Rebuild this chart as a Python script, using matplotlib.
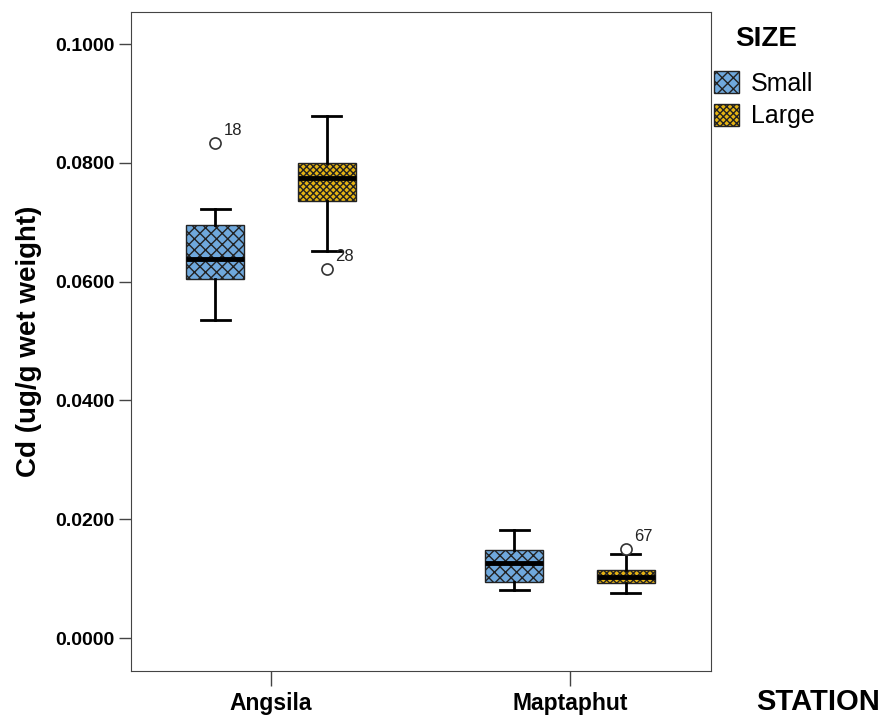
import matplotlib
matplotlib.use("Agg")
import matplotlib.pyplot as plt
from matplotlib.patches import Patch

stations = ["Angsila", "Maptaphut"]
sizes = ["Small", "Large"]
colors = ["#6fa8dc", "#e6b412"]
hatches = ["xxx", "xxxxx"]

# per station, per size: whislo, q1, med, q3, whishi
stats = {
    ("Angsila", "Small"): [0.0535, 0.0605, 0.0639, 0.0695, 0.0722],
    ("Angsila", "Large"): [0.0651, 0.0735, 0.0774, 0.0799, 0.0879],
    ("Maptaphut", "Small"): [0.0081, 0.0094, 0.0126, 0.0148, 0.0182],
    ("Maptaphut", "Large"): [0.0076, 0.0093, 0.0103, 0.0115, 0.0142],
}
outliers = {
    ("Angsila", "Small"): [(0.0833, "18")],
    ("Angsila", "Large"): [(0.0621, "28")],
    ("Maptaphut", "Small"): [],
    ("Maptaphut", "Large"): [(0.0150, "67")],
}

plt.rcParams["hatch.linewidth"] = 1.0
plt.rcParams["font.family"] = ["Liberation Sans", "DejaVu Sans"]

fig = plt.figure(figsize=(8.83, 7.16), dpi=100)
ax = fig.add_axes([0.1484, 0.0628, 0.6569, 0.9204])

offset = 0.187
for i, st in enumerate(stations):
    for j, sz in enumerate(sizes):
        lo, q1, med, q3, hi = stats[(st, sz)]
        pos = i + (j - 0.5) * 2 * offset
        fl = [v for v, _ in outliers[(st, sz)]]
        ax.bxp([dict(whislo=lo, q1=q1, med=med, q3=q3, whishi=hi, fliers=fl)],
               positions=[pos], widths=0.194, capwidths=0.097,
               patch_artist=True, showfliers=True,
               boxprops=dict(facecolor=colors[j], edgecolor="#222222", hatch=hatches[j], linewidth=1),
               medianprops=dict(color="black", linewidth=3.5),
               whiskerprops=dict(color="black", linewidth=2),
               capprops=dict(color="black", linewidth=2),
               flierprops=dict(marker="o", markerfacecolor="white", markeredgecolor="#333333",
                               markersize=8, markeredgewidth=1.2))
        for v, lab in outliers[(st, sz)]:
            ax.annotate(lab, (pos, v), xytext=(6, 6), textcoords="offset points",
                        fontsize=12, color="#222222")

ax.set_xlim(-0.468, 1.472)
ax.set_ylim(-0.00556, 0.1054)
ax.set_xticks([0, 1])
ax.set_xticklabels(stations, fontsize=16.5, fontweight="bold")
yt = [0.0, 0.02, 0.04, 0.06, 0.08, 0.10]
ax.set_yticks(yt)
ax.set_yticklabels([f"{v:.4f}" for v in yt], fontsize=14, fontweight="bold")
ax.tick_params(axis="y", length=8.6, width=1, color="#444444", pad=3)
ax.tick_params(axis="x", length=11, width=1, color="#444444", pad=4)
ax.set_ylabel("Cd (ug/g wet weight)", fontsize=20, fontweight="bold", labelpad=10)
for s in ax.spines.values():
    s.set_color("#444444")

fig.text(0.997, 0.0, "STATION", fontsize=21, fontweight="bold", ha="right", va="bottom")

fig.text(735 / 883, 1 - 39 / 716, "SIZE", fontsize=20, fontweight="bold", ha="left", va="center")
handles = [Patch(facecolor=colors[k], edgecolor="#222222", hatch=hatches[k], label=sizes[k])
           for k in range(2)]
fig.legend(handles=handles, loc="upper left", bbox_to_anchor=(714 / 883, 1 - 71 / 716),
           frameon=False, fontsize=18, handlelength=1.0, handleheight=1.0,
           handletextpad=0.48, labelspacing=0.32, borderpad=0, borderaxespad=0)

fig.savefig("out.png", dpi=100)
